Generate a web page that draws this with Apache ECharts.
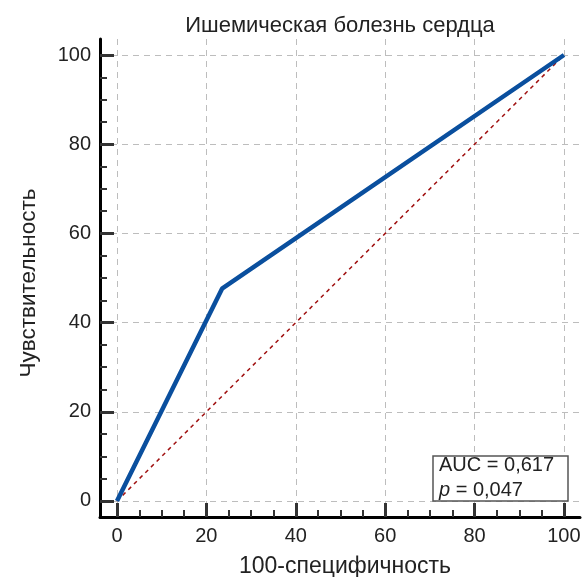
<!DOCTYPE html>
<html>
<head>
<meta charset="utf-8">
<script src="https://cdn.jsdelivr.net/npm/echarts@6/dist/echarts.min.js"></script>
<style>
  html, body { margin: 0; padding: 0; background: #fff; }
  #chart { width: 582px; height: 577px; }
</style>
</head>
<body>
<div id="chart"></div>
<script>
// ROC-кривая: точки (100-специфичность, чувствительность)
const rocPoints = [[0, 0], [23.5, 47.6], [100, 100]];
const diagonal = [[0, 0], [100, 100]];
const tickValues = [0, 20, 40, 60, 80, 100];
const aucValue = '0,617';
const pValue = '0,047';

const FONT = '"Liberation Sans", Arial, sans-serif';
const gridDash = { type: [6, 5], color: '#bdbdbd', width: 1 };

const myChart = echarts.init(document.getElementById('chart'));

// outer axes: line, labels, grid lines; inner axes: ticks only (shifted onto the outer line)
function outerAxis(name, gap, extra) {
  return Object.assign({
    gridIndex: 0,
    type: 'value',
    name: name,
    nameLocation: 'middle',
    nameGap: gap,
    axisLine: { show: true, onZero: false, lineStyle: { color: '#000', width: 3 } },
    axisTick: { show: true, inside: true, length: 1, customValues: tickValues,
      lineStyle: { color: 'rgba(0,0,0,0)', width: 0 } },
    axisLabel: { customValues: tickValues, margin: 9, fontFamily: FONT, fontSize: 20, color: '#222' },
    splitLine: { show: true, lineStyle: gridDash }
  }, extra);
}
function innerAxis(offset) {
  return {
    gridIndex: 1,
    type: 'value',
    min: 0, max: 100, interval: 20,
    offset: offset,
    axisLine: { show: false, onZero: false },
    axisTick: { show: true, inside: true, length: 14, lineStyle: { color: '#333', width: 3 } },
    axisLabel: { show: false },
    splitLine: { show: false },
    minorTick: { show: true, splitNumber: 4, length: 7, lineStyle: { color: '#333', width: 2 } }
  };
}

const option = {
  backgroundColor: '#fff',
  animation: false,
  title: [
    {
      text: 'Ишемическая болезнь сердца',
      left: 335, top: 10, textAlign: 'center',
      textStyle: { fontFamily: FONT, fontSize: 22, fontWeight: 'normal', color: '#222' }
    },
    {
      text: '{a|AUC = ' + aucValue + '}\n{i|p}{a| = ' + pValue + '}',
      left: 433, top: 453,
      padding: [0, 14, 1, 6],
      borderColor: '#555', borderWidth: 1.5, backgroundColor: '#fff',
      textStyle: {
        fontWeight: 'normal',
        rich: {
          a: { fontFamily: FONT, fontSize: 20, fontWeight: 'normal', color: '#222', lineHeight: 25 },
          i: { fontFamily: FONT, fontSize: 20, fontWeight: 'normal', color: '#222', lineHeight: 25, fontStyle: 'italic' }
        }
      }
    }
  ],
  grid: [
    { left: 100, right: 2, top: 39, bottom: 60, outerBoundsMode: 'none' },
    { left: 117, right: 18, top: 55, bottom: 76, outerBoundsMode: 'none' }
  ],
  xAxis: [
    outerAxis('100-специфичность', 38, { min: -3.8, max: 103.6,
      nameTextStyle: { fontFamily: FONT, fontSize: 23, color: '#222', padding: [0, 0, 0, 10] } }),
    innerAxis(16)
  ],
  yAxis: [
    outerAxis('Чувствительность', 60, { min: -3.6, max: 103.6,
      nameTextStyle: { fontFamily: FONT, fontSize: 22.5, color: '#222', padding: [0, 10, 0, 0] } }),
    innerAxis(17)
  ],
  series: [
    {
      type: 'line',
      xAxisIndex: 1, yAxisIndex: 1,
      data: diagonal,
      symbol: 'none',
      lineStyle: { color: '#a01010', width: 1.5, type: [4, 4] }
    },
    {
      type: 'line',
      xAxisIndex: 1, yAxisIndex: 1,
      data: rocPoints,
      symbol: 'none',
      lineStyle: { color: '#0a4f9e', width: 4.5 }
    }
  ]
};

myChart.setOption(option);
</script>
</body>
</html>
